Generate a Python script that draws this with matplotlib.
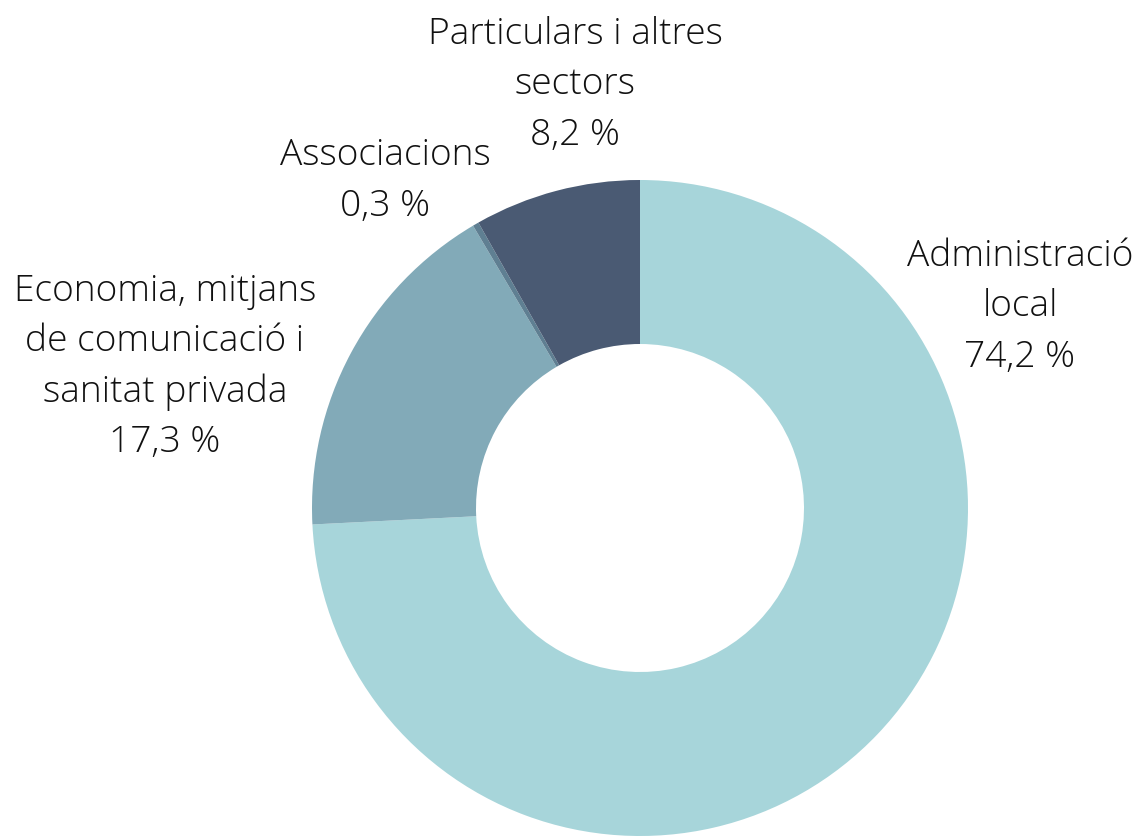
import matplotlib.pyplot as plt

labels = ["Administració\nlocal", "Economia, mitjans\nde comunicació i\nsanitat privada",
          "Associacions", "Particulars i altres\nsectors"]
values = [74.2, 17.3, 0.3, 8.2]
colors = ["#a7d5da", "#82aab8", "#5f7f92", "#4a5a73"]
# label centres in pixels (x, y from top)
label_pos = [(1020, 307), (165, 367), (385, 181), (575, 85)]

W, H = 1140, 836
fig = plt.figure(figsize=(W / 100, H / 100), dpi=100)
cx, cy, r = 640, 508, 328
ax = fig.add_axes([(cx - r) / W, (H - cy - r) / H, 2 * r / W, 2 * r / H])
ax.pie(values, colors=colors, startangle=90, counterclock=False,
       wedgeprops=dict(width=0.5, linewidth=0), radius=1)
ax.set_xlim(-1, 1)
ax.set_ylim(-1, 1)
ax.axis("off")

for lab, v, (px, py) in zip(labels, values, label_pos):
    txt = lab + "\n" + f"{v:.1f}".replace(".", ",") + " %"
    ax.text((px - cx) / r, (cy - py) / r, txt, ha="center", va="center",
            fontsize=26.7, family="Open Sans", fontweight="light",
            color="#111111", linespacing=1.47, clip_on=False)

fig.savefig("out.png", dpi=100)
